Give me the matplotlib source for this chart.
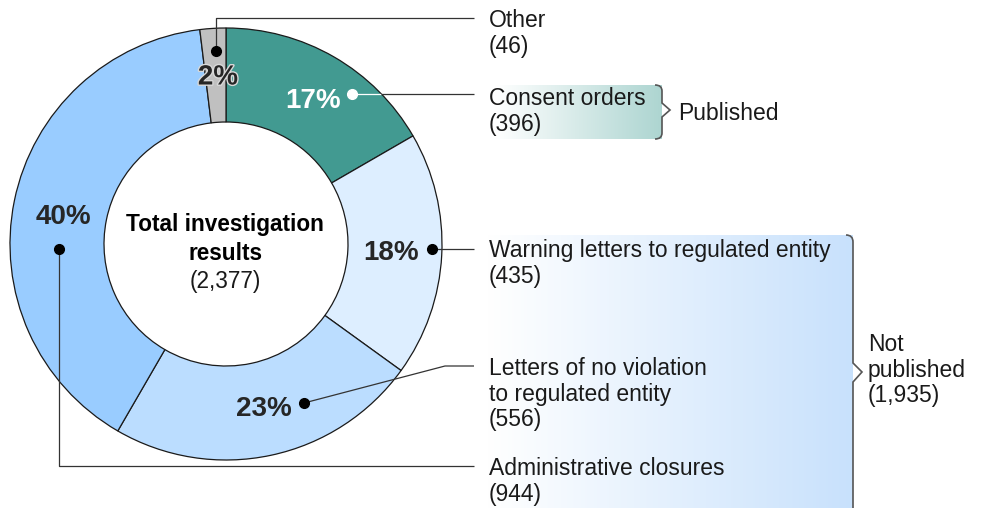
import numpy as np
import matplotlib
matplotlib.use("Agg")
import matplotlib.pyplot as plt
from matplotlib.path import Path
from matplotlib.patches import PathPatch
from matplotlib.colors import to_rgb
import matplotlib.patheffects as pe

plt.rcParams['font.family'] = ['Liberation Sans', 'DejaVu Sans']

# ---------------- data ----------------
categories = ["Consent orders", "Warning letters to regulated entity",
              "Letters of no violation\nto regulated entity",
              "Administrative closures", "Other"]
values = [396, 435, 556, 944, 46]
colors = ["#429A91", "#DDEEFF", "#BBDDFF", "#99CCFF", "#C0C0C0"]
total = sum(values)
published_total = 396
not_published_total = 435 + 556 + 944

W, H = 987, 508
fig = plt.figure(figsize=(W / 100, H / 100), dpi=100)
ax = fig.add_axes([0, 0, 1, 1])

def Y(p):
    return H - p

cx, cy, R, ring = 226, 244, 216, 94

ax.pie(values, colors=colors, startangle=90, counterclock=False, radius=R,
       center=(cx, Y(cy)),
       wedgeprops=dict(width=ring, edgecolor="#1a1a1a", linewidth=0.9))
ax.set_xlim(0, W)
ax.set_ylim(0, H)
ax.set_aspect('equal')
ax.axis('off')

# -------- gradient boxes --------
def grad_box(x0, x1, y0, y1, c_right, start=0.0):
    t = np.linspace(0, 1, 256)
    t = np.clip((t - start) / (1 - start), 0, 1)
    cr = np.array(to_rgb(c_right))
    img = np.ones((2, 256, 3))
    img[:, :, :] = (1 - t)[None, :, None] * 1.0 + t[None, :, None] * cr[None, None, :]
    ax.imshow(img, extent=(x0, x1, Y(y1), Y(y0)), aspect='auto', zorder=0,
              interpolation='bilinear')

grad_box(487, 662, 85, 139, "#ADD5D1", start=0.05)
grad_box(487, 853, 235, 510, "#C8E1FC", start=0.0)
ax.set_xlim(0, W)
ax.set_ylim(0, H)

# -------- brackets --------
bc = "#555555"
pub = [(655, 85), (662, 85), (662, 91), (662, 103), (670, 110), (662, 117),
       (662, 133), (662, 139), (655, 139)]
pub_codes = [Path.MOVETO, Path.CURVE3, Path.CURVE3, Path.LINETO, Path.LINETO,
             Path.LINETO, Path.LINETO, Path.CURVE3, Path.CURVE3]
ax.add_patch(PathPatch(Path([(x, Y(y)) for x, y in pub], pub_codes),
                       fill=False, edgecolor=bc, lw=1.2, zorder=3))
npub = [(846, 235), (853, 235), (853, 242), (853, 363), (862, 372),
        (853, 382), (853, 512)]
npub_codes = [Path.MOVETO, Path.CURVE3, Path.CURVE3, Path.LINETO, Path.LINETO,
              Path.LINETO, Path.LINETO]
ax.add_patch(PathPatch(Path([(x, Y(y)) for x, y in npub], npub_codes),
                       fill=False, edgecolor=bc, lw=1.2, zorder=3))

# -------- leader lines & dots --------
lc = "#333333"
lw = 0.9
def line(pts, color=lc):
    xs = [p[0] for p in pts]
    ys = [Y(p[1]) for p in pts]
    ax.plot(xs, ys, color=color, lw=lw, zorder=4, solid_capstyle='butt')

def dot(x, y, color="black"):
    ax.plot([x], [Y(y)], 'o', ms=7, color=color, zorder=5)

# Other
line([(216, 51), (216, 18), (474, 18)])
dot(216, 51)
# Consent
edge_x = cx + np.sqrt(R**2 - (cy - 94)**2)
line([(352, 94), (edge_x, 94)], color="white")
line([(edge_x, 94), (474, 94)])
dot(352, 94, "white")
# Warning
line([(432, 249), (474, 249)])
dot(432, 249)
# No violation
line([(304, 403), (445, 366), (474, 366)])
dot(304, 403)
# Admin
line([(59, 249), (59, 466), (474, 466)])
dot(59, 249)

# -------- percent labels --------
dy = 1.5  # visual centring offset for text
pct = [round(v / total * 100) for v in values]
pct_pos = [(313, 100), (391, 252), (264, 408), (63, 215), (218, 76)]
pct_col = ["white", "#262626", "#262626", "#262626", "#262626"]
for p, (x, y), c in zip(pct, pct_pos, pct_col):
    t = ax.text(x, Y(y + dy), f"{p}%", fontsize=20, fontweight='bold', color=c,
                ha='center', va='center', zorder=6)
    if c != "white" and p < 5:
        t.set_path_effects([pe.withStroke(linewidth=2, foreground="#d8d8d8")])

# -------- center text --------
ax.text(225, Y(223 + dy), "Total investigation", fontsize=16.3, fontweight='bold',
        ha='center', va='center', color="black")
ax.text(225, Y(252 + dy), "results", fontsize=16.3, fontweight='bold',
        ha='center', va='center', color="black")
ax.text(225, Y(280 + dy), f"({total:,})", fontsize=16.3,
        ha='center', va='center', color="#1a1a1a")

# -------- category labels --------
fs = 16.5
lsp = 25.5
label_y = [97, 249, 367, 467, 19]
for cat, v, y0 in zip(categories, values, label_y):
    lines = cat.split("\n") + [f"({v:,})"]
    for k, s in enumerate(lines):
        ax.text(489, Y(y0 + dy + k * lsp), s, fontsize=fs, ha='left', va='center',
                color="#1a1a1a", zorder=6)

ax.text(678, Y(112 + dy), "Published", fontsize=fs, ha='left', va='center',
        color="#1a1a1a")
for k, s in enumerate(["Not", "published", f"({not_published_total:,})"]):
    ax.text(868, Y(343 + dy + k * lsp), s, fontsize=fs, ha='left', va='center',
            color="#1a1a1a")

fig.savefig("out.png", dpi=100)
